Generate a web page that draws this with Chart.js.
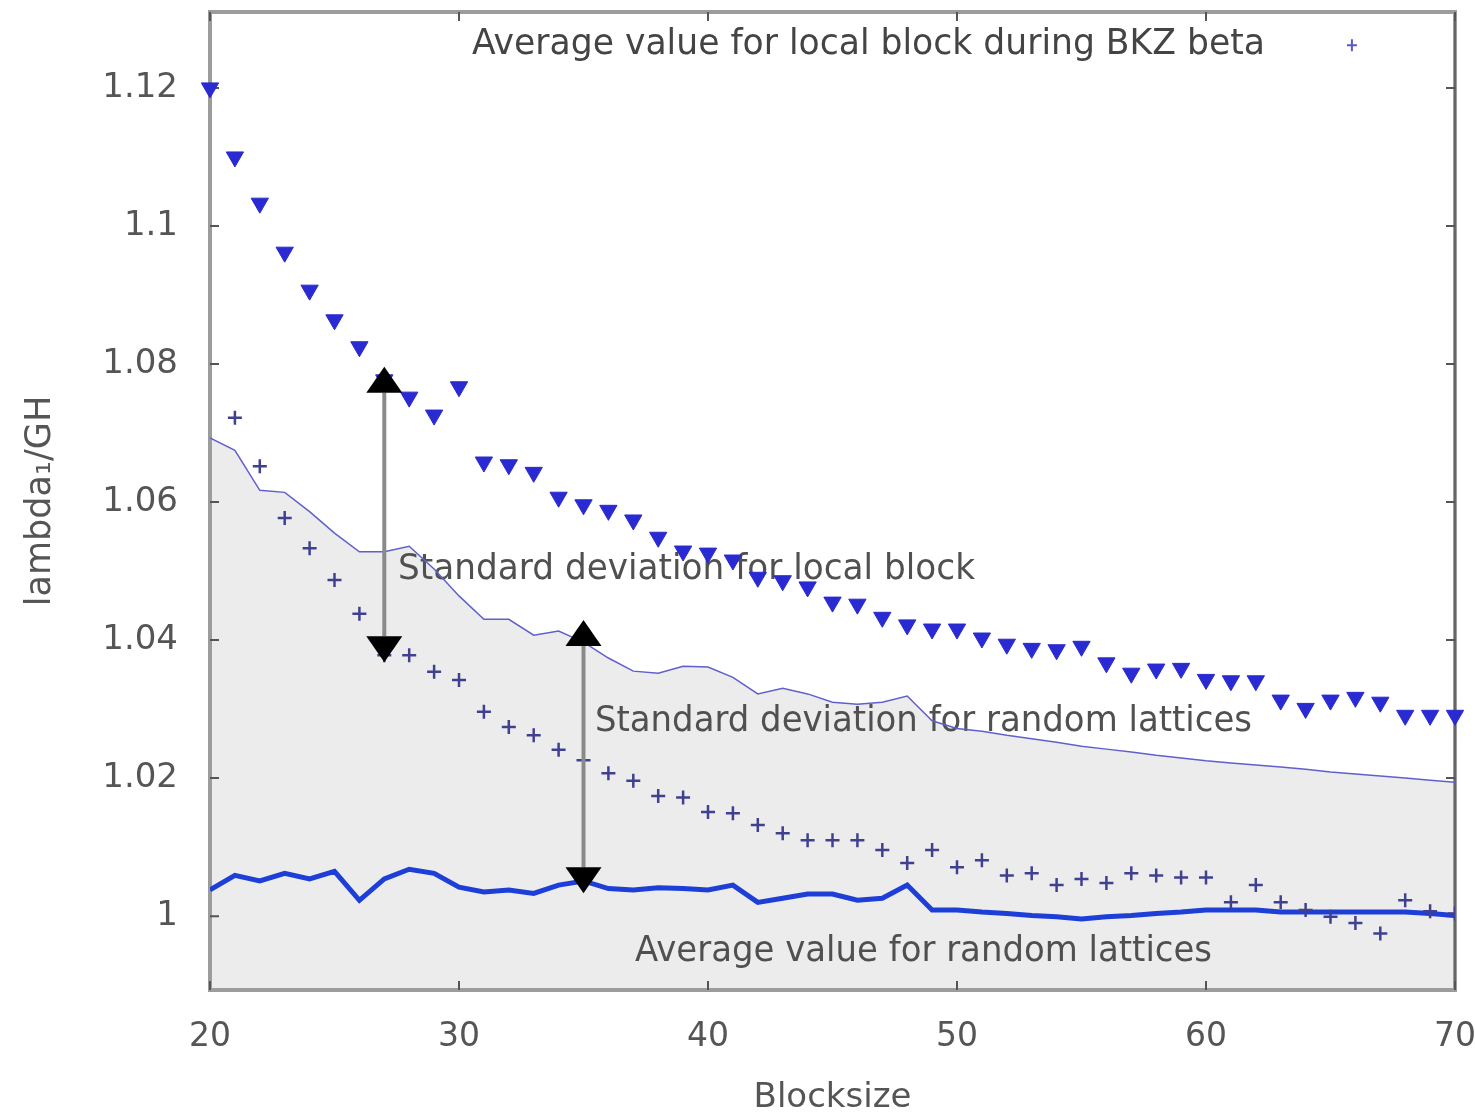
<!DOCTYPE html>
<html>
<head>
<meta charset="utf-8">
<script src="https://cdn.jsdelivr.net/npm/chart.js@4.4.1/dist/chart.umd.min.js"></script>
<style>
  html, body { margin: 0; padding: 0; background: #fff; }
  #chart { display: block; }
</style>
</head>
<body>
<canvas id="chart" width="1475" height="1119"></canvas>
<script>
// blocksize (beta) on the x axis
const blocksize = [
  20, 21, 22, 23, 24, 25, 26, 27, 28, 29,
  30, 31, 32, 33, 34, 35, 36, 37, 38, 39,
  40, 41, 42, 43, 44, 45, 46, 47, 48, 49,
  50, 51, 52, 53, 54, 55, 56, 57, 58, 59,
  60, 61, 62, 63, 64, 65, 66, 67, 68, 69,
  70
];

// triangles: average value for local block during BKZ beta
const localBlockAvg = [
  1.1200, 1.1100, 1.1033, 1.0962, 1.0907, 1.0864, 1.0825, 1.0777, 1.0752, 1.0726,
  1.0767, 1.0658, 1.0654, 1.0643, 1.0607, 1.0596, 1.0588, 1.0574, 1.0549, 1.0529,
  1.0526, 1.0516, 1.0491, 1.0486, 1.0477, 1.0455, 1.0452, 1.0433, 1.0422, 1.0416,
  1.0416, 1.0403, 1.0394, 1.0388, 1.0386, 1.0391, 1.0367, 1.0352, 1.0358, 1.0359,
  1.0343, 1.0341, 1.0341, 1.0313, 1.0301, 1.0313, 1.0317, 1.0310, 1.0291, 1.0291,
  1.0291
];

// pluses: local block average minus its standard deviation
const localBlockLow = [
  null,   1.0722, 1.0652, 1.0577, 1.0533, 1.0487, 1.0438, 1.0378, 1.0378, 1.0354,
  1.0342, 1.0296, 1.0274, 1.0262, 1.0241, 1.0226, 1.0207, 1.0196, 1.0174, 1.0172,
  1.0151, 1.0149, 1.0132, 1.0120, 1.0110, 1.0110, 1.0110, 1.0096, 1.0077, 1.0096,
  1.0071, 1.0081, 1.0059, 1.0062, 1.0045, 1.0054, 1.0048, 1.0062, 1.0059, 1.0056,
  1.0056, 1.0020, 1.0045, 1.0020, 1.0009, 0.9999, 0.9990, 0.9975, 1.0023, 1.0007,
  1.0004
];

// thick line: average value for random lattices
const randomAvg = [
  1.0038, 1.0059, 1.0051, 1.0062, 1.0054, 1.0065, 1.0023, 1.0054, 1.0068, 1.0062,
  1.0042, 1.0035, 1.0038, 1.0033, 1.0045, 1.0051, 1.0040, 1.0038, 1.0041, 1.0040,
  1.0038, 1.0045, 1.0020, 1.0026, 1.0032, 1.0032, 1.0023, 1.0026, 1.0045, 1.0009,
  1.0009, 1.0006, 1.0004, 1.0001, 0.9999, 0.9996, 0.9999, 1.0001, 1.0004, 1.0006,
  1.0009, 1.0009, 1.0009, 1.0006, 1.0006, 1.0006, 1.0006, 1.0006, 1.0006, 1.0004,
  1.0001
];

// thin line + grey area: random lattices average plus standard deviation
const randomHigh = [
  1.0693, 1.0675, 1.0617, 1.0614, 1.0586, 1.0555, 1.0528, 1.0528, 1.0536, 1.0503,
  1.0464, 1.0430, 1.0430, 1.0407, 1.0413, 1.0397, 1.0374, 1.0355, 1.0352, 1.0362,
  1.0361, 1.0346, 1.0322, 1.0330, 1.0322, 1.0310, 1.0307, 1.0310, 1.0319, 1.0283,
  1.0272, 1.0268, 1.0262, 1.0257, 1.0252, 1.0246, 1.0242, 1.0238, 1.0233, 1.0229,
  1.0225, 1.0222, 1.0219, 1.0216, 1.0213, 1.0209, 1.0206, 1.0203, 1.0200, 1.0197,
  1.0194
];

// double arrows: x position, lower tip, upper tip
const arrowX = [27, 35];
const arrowLow = [1.0368, 1.0033];
const arrowHigh = [1.0796, 1.0429];

const xTicks = [20, 30, 40, 50, 60, 70];
const yTicks = [1, 1.02, 1.04, 1.06, 1.08, 1.1, 1.12];
const yTickLabels = ['1', '1.02', '1.04', '1.06', '1.08', '1.1', '1.12'];

const pts = (ys) => blocksize.map((b, i) => ({ x: b, y: ys[i] }));
const FONT = "'DejaVu Sans', sans-serif";

function squeezedText(ctx, text, x, y, w) {
  const m = ctx.measureText(text).width;
  ctx.save();
  ctx.translate(x, y);
  ctx.scale(w / m, 1);
  ctx.fillText(text, 0, 0);
  ctx.restore();
}

function noPad(s) {
  s.paddingTop = 0;
  s.paddingBottom = 0;
  s.paddingLeft = 0;
  s.paddingRight = 0;
}

const overlay = {
  id: 'overlay',
  beforeDatasetsDraw(chart) {
    const { ctx, chartArea: a, scales: { x, y } } = chart;
    ctx.save();
    // frame
    ctx.strokeStyle = '#9c9c9c';
    ctx.lineWidth = 4;
    ctx.strokeRect(a.left, a.top, a.right - a.left, a.bottom - a.top);
    ctx.strokeStyle = '#666';
    ctx.lineWidth = 2;
    ctx.beginPath();
    ctx.moveTo(a.right, a.top);
    ctx.lineTo(a.right, a.bottom);
    ctx.stroke();
    // inward ticks on all four sides
    ctx.strokeStyle = '#555';
    ctx.lineWidth = 2;
    ctx.beginPath();
    xTicks.forEach((v) => {
      const px = x.getPixelForValue(v);
      ctx.moveTo(px, a.bottom); ctx.lineTo(px, a.bottom - 9);
      ctx.moveTo(px, a.top); ctx.lineTo(px, a.top + 9);
    });
    yTicks.forEach((v) => {
      const py = y.getPixelForValue(v);
      ctx.moveTo(a.left, py); ctx.lineTo(a.left + 9, py);
      ctx.moveTo(a.right, py); ctx.lineTo(a.right - 9, py);
    });
    ctx.stroke();

    // labels inside the plot
    ctx.font = '35px ' + FONT;
    ctx.textBaseline = 'middle';
    ctx.textAlign = 'left';
    ctx.fillStyle = '#505050';
    squeezedText(ctx, 'Standard deviation for local block', x.getPixelForValue(27.55), y.getPixelForValue(1.0501), 577);
    squeezedText(ctx, 'Standard deviation for random lattices', x.getPixelForValue(35.46), y.getPixelForValue(1.0281), 657);
    squeezedText(ctx, 'Average value for random lattices', x.getPixelForValue(37.07), y.getPixelForValue(0.9948), 577);
    ctx.fillStyle = '#444';
    squeezedText(ctx, 'Average value for local block during BKZ beta', x.getPixelForValue(30.52), y.getPixelForValue(1.1262), 793);

    // legend sample
    const lx = x.getPixelForValue(65.86), ly = y.getPixelForValue(1.1262);
    ctx.strokeStyle = '#5a5ad0';
    ctx.lineWidth = 2;
    ctx.beginPath();
    ctx.moveTo(lx - 5, ly); ctx.lineTo(lx + 5, ly);
    ctx.moveTo(lx, ly - 6); ctx.lineTo(lx, ly + 6);
    ctx.stroke();
    ctx.restore();
  },
  afterDatasetsDraw(chart) {
    const { ctx, scales: { x, y } } = chart;
    ctx.save();
    arrowX.forEach((ax, i) => {
      const px = x.getPixelForValue(ax);
      const lo = y.getPixelForValue(arrowLow[i]);
      const hi = y.getPixelForValue(arrowHigh[i]);
      const hw = 18, hh = 26;
      ctx.strokeStyle = '#8a8a8a';
      ctx.lineWidth = 4;
      ctx.beginPath();
      ctx.moveTo(px, hi + hh);
      ctx.lineTo(px, lo - hh);
      ctx.stroke();
      ctx.fillStyle = '#000';
      ctx.beginPath();
      ctx.moveTo(px, hi);
      ctx.lineTo(px - hw, hi + hh);
      ctx.lineTo(px + hw, hi + hh);
      ctx.closePath();
      ctx.fill();
      ctx.beginPath();
      ctx.moveTo(px, lo);
      ctx.lineTo(px - hw, lo - hh);
      ctx.lineTo(px + hw, lo - hh);
      ctx.closePath();
      ctx.fill();
    });
    ctx.restore();
  }
};

new Chart(document.getElementById('chart').getContext('2d'), {
  type: 'line',
  data: {
    datasets: [
      {
        label: 'Average value for local block during BKZ beta',
        data: pts(localBlockAvg),
        showLine: false,
        pointStyle: 'triangle',
        rotation: 180,
        pointRadius: 10,
        pointBackgroundColor: '#2a2ad2',
        pointBorderColor: '#2a2ad2',
        pointBorderWidth: 1,
        clip: false,
        order: 0,
      },
      {
        label: 'local block minus std',
        data: pts(localBlockLow),
        showLine: false,
        pointStyle: 'cross',
        pointRadius: 7,
        pointBorderColor: '#404090',
        pointBorderWidth: 2.5,
        order: 1,
      },
      {
        label: 'Average value for random lattices',
        data: pts(randomAvg),
        borderColor: '#1d3fd8',
        borderWidth: 5,
        pointRadius: 0,
        tension: 0,
        fill: false,
        order: 2,
      },
      {
        label: 'random lattices plus std',
        data: pts(randomHigh),
        borderColor: '#6060cc',
        borderWidth: 1.5,
        backgroundColor: '#ececec',
        pointRadius: 0,
        tension: 0,
        fill: 'start',
        order: 3,
      },
    ],
  },
  options: {
    responsive: false,
    animation: false,
    events: [],
    layout: { padding: { top: 12, right: 20, left: 0, bottom: 0 } },
    plugins: {
      legend: { display: false },
      tooltip: { enabled: false },
      filler: { drawTime: 'beforeDatasetsDraw' },
    },
    scales: {
      x: {
        type: 'linear',
        min: 20,
        max: 70,
        afterBuildTicks: (s) => { s.ticks = xTicks.map((v) => ({ value: v })); },
        afterFit: (s) => { s.height = 129; noPad(s); },
        grid: { display: false },
        border: { display: false },
        ticks: {
          font: { family: FONT, size: 33 },
          color: '#555',
          padding: 20,
          maxRotation: 0,
          autoSkip: false,
        },
        title: {
          display: true,
          text: 'Blocksize',
          font: { family: FONT, size: 34 },
          color: '#555',
          padding: { top: 0, bottom: 0 },
        },
      },
      y: {
        type: 'linear',
        min: 0.9893,
        max: 1.131,
        afterBuildTicks: (s) => { s.ticks = yTicks.map((v) => ({ value: v })); },
        afterFit: (s) => { s.width = 210; noPad(s); },
        grid: { display: false },
        border: { display: false },
        ticks: {
          font: { family: FONT, size: 34 },
          color: '#555',
          padding: 24,
          autoSkip: false,
          callback: (v) => yTickLabels[yTicks.indexOf(v)] ?? '',
        },
        title: {
          display: true,
          text: 'lambda₁/GH',
          font: { family: FONT, size: 35 },
          color: '#555',
          padding: { top: 20, bottom: 0 },
        },
      },
    },
  },
  plugins: [overlay],
});
</script>
</body>
</html>
